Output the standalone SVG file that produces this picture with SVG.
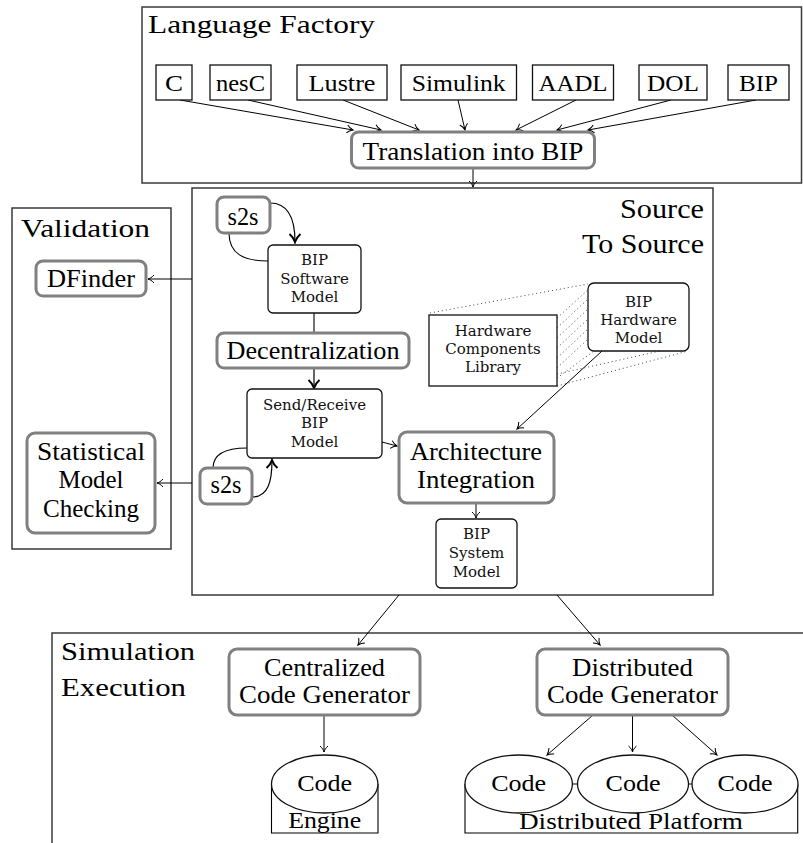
<svg xmlns="http://www.w3.org/2000/svg" width="803" height="843" viewBox="0 0 803 843" font-family="Liberation Serif, serif" font-size="25">
<defs>
<marker id="arr" viewBox="-8 -6 10 12" refX="0" refY="0" markerWidth="10" markerHeight="12" orient="auto" markerUnits="userSpaceOnUse">
<path d="M-6,-4 C-4,-1.5 -1.5,-0.5 0,0 C-1.5,0.5 -4,1.5 -6,4" fill="none" stroke="#000" stroke-width="1"/>
</marker>
<marker id="arrT" viewBox="-10 -8 12 16" refX="0" refY="0" markerWidth="12" markerHeight="16" orient="auto" markerUnits="userSpaceOnUse">
<path d="M-8,-5.5 C-5,-2 -2,-0.6 0,0 C-2,0.6 -5,2 -8,5.5" fill="none" stroke="#000" stroke-width="2"/>
</marker>
</defs>
<style>
.cont{fill:none;stroke:#3a3a3a;stroke-width:1.5}
.box{fill:#fff;stroke:#111;stroke-width:1.3}
.rbox{fill:#fff;stroke:#111;stroke-width:1.3}
.proc{fill:#fff;stroke:#808080;stroke-width:3}
.t{fill:#000}
.s{fill:#111;text-anchor:middle}
.m{text-anchor:middle}
.c{fill:none;stroke:#000;stroke-width:1;marker-end:url(#arr)}
.cT{fill:none;stroke:#000;stroke-width:1.2;marker-end:url(#arrT)}
.ln{fill:none;stroke:#000;stroke-width:1.1}
.dot{fill:none;stroke:#444;stroke-width:1;stroke-dasharray:1 3}
</style>
<rect width="803" height="843" fill="#fff"/>

<!-- containers -->
<g id="language-factory">
<rect class="cont" x="142" y="7" width="659.5" height="176"/>
<text class="t" x="148" y="33" font-size="26" textLength="227" lengthAdjust="spacingAndGlyphs">Language Factory</text>
</g>
<g id="source-to-source">
<rect class="cont" x="192" y="188" width="521" height="407"/>
<text class="t" x="704" y="218" text-anchor="end" font-size="27" textLength="84" lengthAdjust="spacingAndGlyphs">Source</text>
<text class="t" x="704" y="253" text-anchor="end" font-size="27" textLength="122" lengthAdjust="spacingAndGlyphs">To Source</text>
</g>
<g id="validation">
<rect class="cont" x="12" y="208" width="159" height="341"/>
<text class="t" x="21" y="237" font-size="26" textLength="129" lengthAdjust="spacingAndGlyphs">Validation</text>
</g>
<g id="simulation-execution">
<path class="cont" d="M803,633 L52,633 L52,843"/>
<text class="t" x="61" y="660" font-size="26" textLength="134" lengthAdjust="spacingAndGlyphs">Simulation</text>
<text class="t" x="61" y="696" font-size="26" textLength="125" lengthAdjust="spacingAndGlyphs">Execution</text>
</g>

<!-- connectors -->
<g id="connectors">
<path class="c" d="M180,100 L353,130"/>
<path class="c" d="M248,100 L381,130"/>
<path class="c" d="M343,100 L419,130"/>
<path class="c" d="M458,100 L465,130"/>
<path class="c" d="M576,100 L516,130"/>
<path class="c" d="M671,100 L557,130"/>
<path class="c" d="M756,100 L588,130"/>
<path class="c" d="M473,168 L473,187"/>
<path class="c" d="M192,279 L148,279"/>
<path class="c" d="M192,483 L157,483"/>
<path class="ln" d="M229,233 C229,254 244,261 268,261"/>
<path class="cT" d="M270,203 C289,203 295,220 295,242"/>
<path class="ln" d="M314,313 L314,333"/>
<path class="cT" d="M314,368 L314,388"/>
<path class="ln" d="M213,468 C213,455 224,448 247,448"/>
<path class="cT" d="M252,497 C268,497 272,482 272,460"/>
<path class="c" d="M382,442 L397,446"/>
<path class="c" d="M602,351 L517,429"/>
<path class="c" d="M476,503 L476,518"/>
<path class="c" d="M399,595 L358,645"/>
<path class="c" d="M557,595 L600,645"/>
<path class="c" d="M324,715 L324,752"/>
<path class="c" d="M593,715 L547,755"/>
<path class="c" d="M632.5,715 L632.5,752"/>
<path class="c" d="M672,715 L717,755"/>
</g>

<!-- projection of hardware library into BIP hardware model -->
<g id="hw-projection">
<path class="dot" d="M430,313 L588,284"/>
<path class="dot" d="M557,318 L589,289"/>
<path class="dot" d="M557,328 L588,299"/>
<path class="dot" d="M557,338 L588,309"/>
<path class="dot" d="M557,348 L588,319"/>
<path class="dot" d="M557,358 L588,329"/>
<path class="dot" d="M557,368 L588,339"/>
<path class="dot" d="M557,378 L594,351"/>
<path class="dot" d="M557,374 L660,351"/>
<path class="dot" d="M557,386 L688,351"/>
</g>

<!-- language nodes -->
<g id="lang-c"><rect class="box" x="156" y="65" width="36" height="35"/><text class="t m" x="174" y="91" font-size="24" textLength="18" lengthAdjust="spacingAndGlyphs">C</text></g>
<g id="lang-nesc"><rect class="box" x="210" y="65" width="61" height="35"/><text class="t m" x="240.5" y="91" font-size="24" textLength="49" lengthAdjust="spacingAndGlyphs">nesC</text></g>
<g id="lang-lustre"><rect class="box" x="297" y="65" width="90" height="35"/><text class="t m" x="342" y="91" font-size="24" textLength="67" lengthAdjust="spacingAndGlyphs">Lustre</text></g>
<g id="lang-simulink"><rect class="box" x="401" y="65" width="115.5" height="35"/><text class="t m" x="458.7" y="91" font-size="24" textLength="94" lengthAdjust="spacingAndGlyphs">Simulink</text></g>
<g id="lang-aadl"><rect class="box" x="532.5" y="65" width="81" height="35"/><text class="t m" x="573" y="91" font-size="24" textLength="69" lengthAdjust="spacingAndGlyphs">AADL</text></g>
<g id="lang-dol"><rect class="box" x="639" y="65" width="68" height="35"/><text class="t m" x="673" y="91" font-size="24" textLength="52" lengthAdjust="spacingAndGlyphs">DOL</text></g>
<g id="lang-bip"><rect class="box" x="728" y="65" width="61" height="35"/><text class="t m" x="758.5" y="91" font-size="24" textLength="39" lengthAdjust="spacingAndGlyphs">BIP</text></g>

<g id="translation"><rect class="proc" x="351.5" y="132" width="243" height="36" rx="7"/><text class="t m" x="473" y="160" textLength="221" lengthAdjust="spacingAndGlyphs">Translation into BIP</text></g>

<!-- validation nodes -->
<g id="dfinder"><rect class="proc" x="36" y="261" width="110" height="35" rx="7"/><text class="t m" x="91" y="287" textLength="88" lengthAdjust="spacingAndGlyphs">DFinder</text></g>
<g id="smc"><rect class="proc" x="27" y="433" width="128" height="100" rx="8"/>
<text class="t m" x="91" y="460" textLength="108" lengthAdjust="spacingAndGlyphs">Statistical</text>
<text class="t m" x="91" y="488" textLength="65" lengthAdjust="spacingAndGlyphs">Model</text>
<text class="t m" x="91" y="517" textLength="96" lengthAdjust="spacingAndGlyphs">Checking</text></g>

<!-- source to source nodes -->
<g id="s2s-top"><rect class="proc" x="217" y="197" width="53" height="36" rx="7"/><text class="t m" x="243" y="225" textLength="31" lengthAdjust="spacingAndGlyphs">s2s</text></g>
<g id="bip-software-model" font-family="DejaVu Serif, serif" font-size="15"><rect class="rbox" x="268" y="245" width="93" height="68" rx="5"/>
<text class="s" x="314.5" y="265">BIP</text><text class="s" x="314.5" y="284">Software</text><text class="s" x="314.5" y="302">Model</text></g>
<g id="decentralization"><rect class="proc" x="217" y="333" width="192" height="35" rx="7"/><text class="t m" x="313" y="359" textLength="173" lengthAdjust="spacingAndGlyphs">Decentralization</text></g>
<g id="send-receive-model" font-family="DejaVu Serif, serif" font-size="15"><rect class="rbox" x="247" y="389" width="135" height="69" rx="5"/>
<text class="s" x="314.5" y="410">Send/Receive</text><text class="s" x="314.5" y="428">BIP</text><text class="s" x="314.5" y="447">Model</text></g>
<g id="s2s-bottom"><rect class="proc" x="200" y="468" width="52" height="36" rx="7"/><text class="t m" x="226" y="493" textLength="31" lengthAdjust="spacingAndGlyphs">s2s</text></g>
<g id="hw-components-library" font-family="DejaVu Serif, serif" font-size="15"><rect class="box" x="429" y="315" width="128" height="71"/>
<text class="s" x="493" y="336">Hardware</text><text class="s" x="493" y="354">Components</text><text class="s" x="493" y="372">Library</text></g>
<g id="bip-hardware-model" font-family="DejaVu Serif, serif" font-size="15"><rect class="rbox" x="588" y="283" width="101" height="68" rx="6"/>
<text class="s" x="638.5" y="307">BIP</text><text class="s" x="638.5" y="325">Hardware</text><text class="s" x="638.5" y="343">Model</text></g>
<g id="architecture-integration"><rect class="proc" x="399" y="432" width="155" height="71" rx="8"/>
<text class="t m" x="476" y="460" textLength="132" lengthAdjust="spacingAndGlyphs">Architecture</text>
<text class="t m" x="476" y="488" textLength="118" lengthAdjust="spacingAndGlyphs">Integration</text></g>
<g id="bip-system-model" font-family="DejaVu Serif, serif" font-size="15"><rect class="rbox" x="436" y="519" width="81" height="69" rx="5"/>
<text class="s" x="476.5" y="539">BIP</text><text class="s" x="476.5" y="558">System</text><text class="s" x="476.5" y="577">Model</text></g>

<!-- simulation / execution nodes -->
<g id="centralized-code-generator"><rect class="proc" x="229" y="649" width="191" height="66" rx="8"/>
<text class="t m" x="324.5" y="676" textLength="121" lengthAdjust="spacingAndGlyphs">Centralized</text>
<text class="t m" x="324.5" y="703" textLength="171" lengthAdjust="spacingAndGlyphs">Code Generator</text></g>
<g id="distributed-code-generator"><rect class="proc" x="537" y="649" width="191" height="66" rx="8"/>
<text class="t m" x="632.5" y="676" textLength="121" lengthAdjust="spacingAndGlyphs">Distributed</text>
<text class="t m" x="632.5" y="703" textLength="171" lengthAdjust="spacingAndGlyphs">Code Generator</text></g>
<g id="engine">
<path class="ln" d="M271.5,784 L271.5,833 L378,833 L378,784"/>
<ellipse class="box" cx="324.7" cy="784" rx="53.2" ry="29"/>
<text class="t m" x="324.7" y="791" font-size="24" textLength="55" lengthAdjust="spacingAndGlyphs">Code</text>
<text class="t m" x="324.7" y="828" font-size="24" textLength="73" lengthAdjust="spacingAndGlyphs">Engine</text>
</g>
<g id="distributed-platform">
<path class="ln" d="M465,784 L465,833 L797.7,833 L797.7,784"/>
<path class="ln" d="M572,784 L578,784 M688.5,784 L692,784"/>
<ellipse class="box" cx="518.7" cy="784" rx="53.7" ry="29"/>
<ellipse class="box" cx="633" cy="784" rx="55.5" ry="29"/>
<ellipse class="box" cx="745" cy="784" rx="53" ry="29"/>
<text class="t m" x="518.7" y="791" font-size="24" textLength="55" lengthAdjust="spacingAndGlyphs">Code</text>
<text class="t m" x="633" y="791" font-size="24" textLength="55" lengthAdjust="spacingAndGlyphs">Code</text>
<text class="t m" x="745" y="791" font-size="24" textLength="55" lengthAdjust="spacingAndGlyphs">Code</text>
<text class="t m" x="631" y="829" font-size="24" textLength="224" lengthAdjust="spacingAndGlyphs">Distributed Platform</text>
</g>
</svg>
